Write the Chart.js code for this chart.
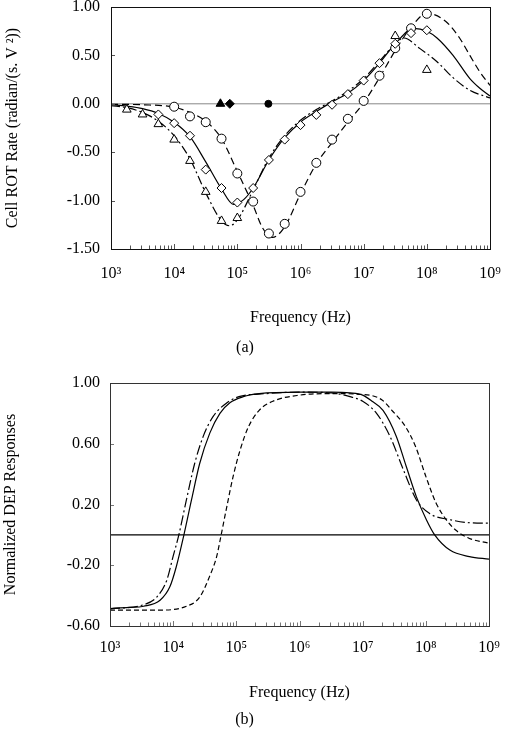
<!DOCTYPE html>
<html>
<head>
<meta charset="utf-8">
<script src="https://cdn.jsdelivr.net/npm/chart.js@4.4.1/dist/chart.umd.min.js"></script>
<style>
  html, body { margin: 0; padding: 0; background: #fff; }
  .panel { position: absolute; left: 0; width: 505px; }
  #panelA { top: 0; height: 365px; }
  #panelB { top: 365px; height: 369px; }
</style>
</head>
<body>
<div class="panel" id="panelA"><canvas id="rotChart" width="505" height="365"></canvas></div>
<div class="panel" id="panelB"><canvas id="depChart" width="505" height="369"></canvas></div>
<script>
// axis ticks
const decadeValues = [1e3, 1e4, 1e5, 1e6, 1e7, 1e8, 1e9];
const decadeLabels = ['10\u00B3', '10\u2074', '10\u2075', '10\u2076', '10\u2077', '10\u2078', '10\u2079'];
const rotYTicks = [-1.5, -1.0, -0.5, 0, 0.5, 1.0];
const depYTicks = [-0.6, -0.2, 0.2, 0.6, 1.0];

// (a) measured ROT points
const triFreq = [1.78e3, 3.16e3, 5.62e3, 1e4, 1.78e4, 3.16e4, 5.62e4, 1e5, 3.16e7, 1e8];
const triRot  = [-0.06, -0.11, -0.21, -0.37, -0.59, -0.91, -1.21, -1.18, 0.70, 0.35];
const diaFreq = [5.62e3, 1e4, 1.78e4, 3.16e4, 5.62e4, 1e5, 1.78e5, 3.16e5, 5.62e5, 1e6, 1.78e6, 3.16e6, 5.62e6, 1e7, 1.78e7, 3.16e7, 5.62e7, 1e8];
const diaRot  = [-0.11, -0.20, -0.33, -0.68, -0.87, -1.02, -0.87, -0.58, -0.37, -0.22, -0.115, -0.01, 0.10, 0.24, 0.42, 0.62, 0.73, 0.76];
const cirFreq = [1e4, 1.78e4, 3.16e4, 5.62e4, 1e5, 1.78e5, 3.16e5, 5.62e5, 1e6, 1.78e6, 3.16e6, 5.62e6, 1e7, 1.78e7, 3.16e7, 5.62e7, 1e8];
const cirRot  = [-0.03, -0.13, -0.19, -0.36, -0.72, -1.01, -1.34, -1.24, -0.91, -0.61, -0.37, -0.155, 0.03, 0.29, 0.575, 0.78, 0.93];
// filled markers sitting on the zero line
const filledFreq = [5.4e4, 7.6e4, 3.1e5];
const filledRot  = [0, 0, 0];

// (a) fitted ROT curves
const solidFreq = [1e3, 1.78e3, 3.16e3, 5.62e3, 1e4, 1.78e4, 3.16e4, 5.62e4, 8.7e4, 1.26e5, 1.78e5, 3.16e5, 5.62e5, 1e6, 1.78e6, 3.16e6, 5.62e6, 1e7, 1.78e7, 3.16e7, 6.2e7, 1e8, 1.45e8, 2.6e8, 4.8e8, 6.9e8, 1e9];
const solidRot  = [-0.01, -0.025, -0.05, -0.10, -0.19, -0.34, -0.60, -0.88, -1.04, -0.99, -0.87, -0.58, -0.35, -0.19, -0.08, 0.02, 0.11, 0.24, 0.42, 0.62, 0.78, 0.75, 0.68, 0.50, 0.26, 0.16, 0.08];
const dashDotFreq = [1e3, 1.78e3, 3.16e3, 5.62e3, 1e4, 1.78e4, 3.16e4, 5.62e4, 7.5e4, 1e5, 1.78e5, 3.16e5, 5.62e5, 1e6, 1.78e6, 3.16e6, 5.62e6, 1e7, 1.78e7, 3.16e7, 4.3e7, 7.8e7, 1.45e8, 2.6e8, 4.8e8, 1e9];
const dashDotRot  = [-0.02, -0.04, -0.09, -0.18, -0.33, -0.57, -0.92, -1.21, -1.26, -1.20, -0.89, -0.56, -0.33, -0.17, -0.06, 0.03, 0.13, 0.26, 0.44, 0.62, 0.68, 0.57, 0.435, 0.27, 0.14, 0.06];
const dashedFreq = [1e3, 3.16e3, 1e4, 1.78e4, 3.16e4, 5.62e4, 1e5, 1.78e5, 2.5e5, 3.6e5, 5.62e5, 1e6, 1.78e6, 3.16e6, 5.62e6, 1e7, 1.78e7, 3.16e7, 5.62e7, 1e8, 2e8, 3.3e8, 4.8e8, 6.9e8, 1e9];
const dashedRot  = [-0.005, -0.01, -0.035, -0.09, -0.18, -0.36, -0.70, -1.05, -1.28, -1.38, -1.27, -0.93, -0.62, -0.40, -0.19, 0.01, 0.27, 0.55, 0.79, 0.935, 0.85, 0.68, 0.50, 0.33, 0.19];

// (b) normalized DEP responses
const depSolidFreq = [1e3, 2e3, 3.4e3, 6.2e3, 8.9e3, 1.12e4, 1.48e4, 1.95e4, 2.63e4, 3.8e4, 5.5e4, 7.9e4, 1.29e5, 2.3e5, 1e6, 3.2e6, 6.3e6, 1e7, 1.41e7, 2.1e7, 3.4e7, 4.9e7, 7.1e7, 1.02e8, 1.38e8, 2.4e8, 4.9e8, 1e9];
const depSolid     = [-0.485, -0.478, -0.47, -0.43, -0.34, -0.21, 0, 0.23, 0.47, 0.67, 0.80, 0.87, 0.91, 0.93, 0.94, 0.94, 0.935, 0.92, 0.88, 0.82, 0.65, 0.45, 0.25, 0.10, 0.0, -0.10, -0.143, -0.16];
const depDashDotFreq = [1e3, 3.4e3, 5.5e3, 7.9e3, 1e4, 1.23e4, 1.62e4, 2.19e4, 3e4, 4.3e4, 7.1e4, 1.1e5, 2.9e5, 1e6, 3.2e6, 6.3e6, 1e7, 1.66e7, 2.7e7, 4.4e7, 7.1e7, 1.15e8, 2.4e8, 4.9e8, 1e9];
const depDashDot     = [-0.487, -0.46, -0.41, -0.30, -0.14, 0, 0.23, 0.47, 0.65, 0.78, 0.87, 0.91, 0.93, 0.94, 0.935, 0.91, 0.88, 0.80, 0.65, 0.43, 0.23, 0.14, 0.10, 0.08, 0.077];
const depDashedFreq = [1e3, 6.2e3, 1.62e4, 2.63e4, 3.8e4, 4.9e4, 5.75e4, 7.1e4, 8.9e4, 1.15e5, 1.55e5, 2.3e5, 3.8e5, 1e6, 3.2e6, 1e7, 2e7, 2.9e7, 4.8e7, 6.9e7, 1e8, 1.45e8, 2.1e8, 3e8, 4.8e8, 1e9];
const depDashed     = [-0.495, -0.495, -0.47, -0.41, -0.27, -0.14, 0, 0.19, 0.385, 0.56, 0.71, 0.82, 0.88, 0.92, 0.93, 0.925, 0.89, 0.82, 0.71, 0.58, 0.385, 0.21, 0.10, 0.03, -0.022, -0.055];

const zeroFreq = [1e3, 1e9];
const zeroVal  = [0, 0];

const FONT = "'Liberation Serif', 'Times New Roman', serif";
Chart.defaults.font.family = FONT;
Chart.defaults.font.size = 16;
Chart.defaults.color = '#000';

const pts = (xs, ys) => xs.map((x, i) => ({ x, y: ys[i] }));

// 1..9 x 10^n minor ticks along the log axis
function logTicks() {
  const out = [];
  decadeValues.forEach((d, i) => {
    if (i === decadeValues.length - 1) { out.push({ value: d }); return; }
    for (let m = 1; m < 10; m++) out.push({ value: m * d });
  });
  return out;
}

// box round the plot + small ticks pointing inward
const frameTicks = {
  id: 'frameTicks',
  afterDatasetsDraw(chart, args, opts) {
    const { ctx, chartArea: a, scales: { x, y } } = chart;
    ctx.save();
    ctx.lineWidth = 1;
    ctx.strokeStyle = opts.tickColor || '#444';
    ctx.beginPath();
    x.ticks.forEach(t => {
      const px = Math.round(x.getPixelForValue(t.value)) + 0.5;
      const len = decadeValues.includes(t.value) ? 5 : 3.5;
      ctx.moveTo(px, a.bottom);
      ctx.lineTo(px, a.bottom - len);
    });
    y.ticks.forEach(t => {
      const py = Math.round(y.getPixelForValue(t.value)) + 0.5;
      ctx.moveTo(a.left, py);
      ctx.lineTo(a.left + 4, py);
    });
    ctx.stroke();
    ctx.strokeStyle = opts.frameColor || '#000';
    ctx.strokeRect(Math.round(a.left) + 0.5, Math.round(a.top) + 0.5,
      Math.round(a.right - a.left), Math.round(a.bottom - a.top));
    ctx.restore();
  }
};

function makeScales(cfg) {
  return {
    x: {
      type: 'logarithmic',
      min: 1e3,
      max: 1e9,
      afterBuildTicks: s => { s.ticks = logTicks(); },
      afterFit: s => { s.height = cfg.xHeight; s.paddingLeft = 0; s.paddingRight = 0; },
      grid: { display: false, drawTicks: false },
      border: { display: false },
      ticks: {
        autoSkip: false,
        maxRotation: 0,
        padding: cfg.xTickPad,
        callback: v => {
          const i = decadeValues.indexOf(v);
          return i >= 0 ? decadeLabels[i] : '';
        }
      },
      title: { display: true, text: 'Frequency (Hz)', padding: { top: 0, bottom: cfg.xTitlePad } }
    },
    y: {
      min: cfg.yTicks[0],
      max: cfg.yTicks[cfg.yTicks.length - 1],
      afterBuildTicks: s => { s.ticks = cfg.yTicks.map(v => ({ value: v })); },
      afterFit: s => { s.width = cfg.yWidth; s.paddingTop = 0; s.paddingBottom = 0; },
      grid: { display: false, drawTicks: false },
      border: { display: false },
      ticks: { padding: cfg.yTickPad, callback: v => Number(v).toFixed(2) },
      title: { display: true, text: cfg.yTitle, padding: { top: cfg.yTitlePad, bottom: 0 } }
    }
  };
}

const marker = (label, xs, ys, style, r) => ({
  label, data: pts(xs, ys), showLine: false,
  pointStyle: style, pointRadius: r,
  pointBackgroundColor: '#fff', pointBorderColor: '#000', pointBorderWidth: 1
});
const curve = (label, xs, ys, dash, color, w) => ({
  label, data: pts(xs, ys), showLine: true, pointRadius: 0,
  borderColor: color || '#000', borderWidth: w || 1.2, borderDash: dash,
  cubicInterpolationMode: 'monotone', fill: false
});

new Chart(document.getElementById('rotChart'), {
  type: 'scatter',
  data: {
    datasets: [
      {
        label: 'filled', data: pts(filledFreq, filledRot), showLine: false,
        pointStyle: ['triangle', 'rectRot', 'circle'], pointRadius: [5, 4.5, 3.5],
        pointBackgroundColor: '#000', pointBorderColor: '#000'
      },
      marker('triangles', triFreq, triRot, 'triangle', 5),
      marker('diamonds', diaFreq, diaRot, 'rectRot', 4.5),
      marker('circles', cirFreq, cirRot, 'circle', 4.5),
      curve('solid fit', solidFreq, solidRot, []),
      curve('dash-dot fit', dashDotFreq, dashDotRot, [9, 3, 2, 3]),
      curve('dashed fit', dashedFreq, dashedRot, [7, 4]),
      curve('zero', zeroFreq, zeroVal, [], '#888', 1)
    ]
  },
  options: {
    responsive: false,
    animation: false,
    layout: { padding: { top: 7, right: 15, left: 0, bottom: 0 } },
    scales: makeScales({
      xHeight: 89.4, xTickPad: 15, xTitlePad: 10.8,
      yTicks: rotYTicks, yWidth: 111, yTickPad: 11, yTitlePad: 3.4,
      yTitle: 'Cell ROT Rate (radian/(s. V \u00B2))'
    }),
    plugins: {
      legend: { display: false },
      tooltip: { enabled: false },
      title: { display: true, text: '(a)', position: 'bottom', font: { size: 16, weight: 'normal' }, padding: { top: 0, bottom: 7.4 } },
      frameTicks: { frameColor: '#111', tickColor: '#555' }
    }
  },
  plugins: [frameTicks]
});

new Chart(document.getElementById('depChart'), {
  type: 'scatter',
  data: {
    datasets: [
      curve('solid', depSolidFreq, depSolid, []),
      curve('dash-dot', depDashDotFreq, depDashDot, [10, 3, 2, 3]),
      curve('dashed', depDashedFreq, depDashed, [5, 3]),
      curve('zero', zeroFreq, zeroVal, [], '#000', 1.1)
    ]
  },
  options: {
    responsive: false,
    animation: false,
    layout: { padding: { top: 18, right: 16, left: 0, bottom: 0 } },
    scales: makeScales({
      xHeight: 84.4, xTickPad: 12.4, xTitlePad: 7.8,
      yTicks: depYTicks, yWidth: 110, yTickPad: 10, yTitlePad: 1.4,
      yTitle: 'Normalized DEP Responses'
    }),
    plugins: {
      legend: { display: false },
      tooltip: { enabled: false },
      title: { display: true, text: '(b)', position: 'bottom', font: { size: 16, weight: 'normal' }, padding: { top: 0, bottom: 4.4 } },
      frameTicks: { frameColor: '#333', tickColor: '#777' }
    }
  },
  plugins: [frameTicks]
});
</script>
</body>
</html>
